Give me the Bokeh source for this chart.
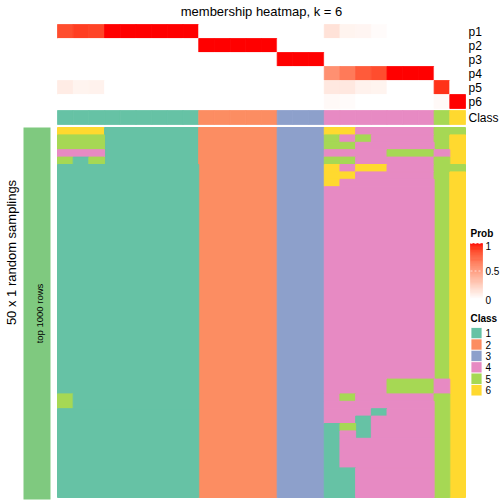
import math
from bokeh.plotting import figure
from bokeh.models import Range1d
from bokeh.core.properties import value
from bokeh.embed import file_html
from bokeh.resources import INLINE

# ---------------- data ----------------
title = "membership heatmap, k = 6"
row_names = ["p1", "p2", "p3", "p4", "p5", "p6"]
class_labels = ["1", "2", "3", "4", "5", "6"]
class_colors = ["#66C2A5", "#FC8D62", "#8DA0CB", "#E78AC3", "#A6D854", "#FFD92F"]
sample_class = [1] * 9 + [2] * 5 + [3] * 3 + [4] * 7 + [5, 6]

p1 = [0.85, 0.9, 0.88, 1, 1, 1, 1, 1, 1, 0, 0, 0, 0, 0, 0, 0, 0,
      0.15, 0.06, 0.05, 0.02, 0, 0, 0, 0, 0]
p2 = [0] * 9 + [1] * 5 + [0] * 12
p3 = [0] * 14 + [1] * 3 + [0] * 9
p4 = [0] * 17 + [0.57, 0.67, 0.8, 0.85, 1, 1, 1] + [0, 0]
p5 = [0.1, 0.06, 0.07] + [0] * 14 + [0.12, 0.12, 0.07, 0.06, 0, 0, 0] + [0.93, 0]
p6 = [0] * 17 + [0.03, 0.02, 0, 0, 0, 0, 0] + [0.03, 1]
prob_rows = [p1, p2, p3, p4, p5, p6]

default_row = "111111111" "22222" "333" "4444444" "56"
samplings = (
    ["666111111" "22222" "333" "6644444" "55",
     "555111111" "22222" "333" "5454444" "56",
     "555111111" "22222" "333" "5544444" "56",
     "444111111" "22222" "333" "4444555" "46",
     "515111111" "22222" "333" "5544444" "56",
     "111111111" "22222" "333" "6466444" "55",
     "111111111" "22222" "333" "6644444" "56",
     "111111111" "22222" "333" "6444444" "56"]
    + [default_row] * 26
    + ["111111111" "22222" "333" "4444555" "46"] * 2
    + ["511111111" "22222" "333" "4544444" "56",
       "511111111" "22222" "333" "4444444" "56",
       "111111111" "22222" "333" "4441444" "56",
       "111111111" "22222" "333" "4414444" "56",
       "111111111" "22222" "333" "1514444" "56",
       "111111111" "22222" "333" "1414444" "56"]
    + ["111111111" "22222" "333" "1444444" "56"] * 4
    + ["111111111" "22222" "333" "1144444" "56"] * 4
)
prob_ticks = [0, 0.5, 1]
left_label = "50 x 1 random samplings"
bar_label = "top 1000 rows"

# ---------------- colour helpers (LAB white->red ramp) ----------------
def _s2l(c):
    return c / 12.92 if c <= 0.04045 else ((c + 0.055) / 1.055) ** 2.4

def _l2s(c):
    c = min(1.0, max(0.0, c))
    return 12.92 * c if c <= 0.0031308 else 1.055 * c ** (1 / 2.4) - 0.055

def to_lab(rgb):
    r, g, b = [_s2l(c / 255) for c in rgb]
    X = 0.4124 * r + 0.3576 * g + 0.1805 * b
    Y = 0.2126 * r + 0.7152 * g + 0.0722 * b
    Z = 0.0193 * r + 0.1192 * g + 0.9505 * b
    f = lambda t: t ** (1 / 3) if t > 0.008856 else 7.787 * t + 16 / 116
    fx, fy, fz = f(X / 0.95047), f(Y), f(Z / 1.08883)
    return (116 * fy - 16, 500 * (fx - fy), 200 * (fy - fz))

def from_lab(lab):
    L, a, b = lab
    fy = (L + 16) / 116
    fx = fy + a / 500
    fz = fy - b / 200
    finv = lambda t: t ** 3 if t ** 3 > 0.008856 else (t - 16 / 116) / 7.787
    X, Y, Z = 0.95047 * finv(fx), finv(fy), 1.08883 * finv(fz)
    r = 3.2406 * X - 1.5372 * Y - 0.4986 * Z
    g = -0.9689 * X + 1.8758 * Y + 0.0415 * Z
    bb = 0.0557 * X - 0.2040 * Y + 1.0570 * Z
    return "#%02x%02x%02x" % tuple(int(round(255 * _l2s(c))) for c in (r, g, bb))

WL = to_lab((255, 255, 255))
RL = to_lab((255, 0, 0))

def prob_color(t):
    return from_lab(tuple(WL[i] + (RL[i] - WL[i]) * t for i in range(3)))

# ---------------- layout (screen px) ----------------
X0, X1 = 57.0, 465.0
ncol = len(sample_class)
cw = (X1 - X0) / ncol
PT, PH = 24.0, 14.0
CT, CB = 110.0, 124.0
HT, HB = 127.0, 497.0
nrow = len(samplings)
rh = (HB - HT) / nrow

p = figure(width=504, height=504, x_range=Range1d(0, 504), y_range=Range1d(504, 0),
           output_backend="svg", toolbar_location=None,
           x_axis_location=None, y_axis_location=None, min_border=0)
p.grid.visible = False
p.outline_line_color = None
p.background_fill_color = "white"
p.border_fill_color = "white"

FONT = value("Liberation Sans")

# probability rows
L, R, T, B, C = [], [], [], [], []
for r, row in enumerate(prob_rows):
    for j, v in enumerate(row):
        L.append(X0 + j * cw); R.append(X0 + (j + 1) * cw)
        T.append(PT + r * PH); B.append(PT + (r + 1) * PH)
        C.append(prob_color(v))
p.quad(left=L, right=R, top=T, bottom=B, fill_color=C, line_color=C, line_width=0.8)

# class annotation row
L, R, C = [], [], []
for j, k in enumerate(sample_class):
    L.append(X0 + j * cw); R.append(X0 + (j + 1) * cw); C.append(class_colors[k - 1])
p.quad(left=L, right=R, top=CT, bottom=CB, fill_color=C, line_color=C, line_width=0.8)

# sampling heatmap: merge runs into blocks
blocks = []
prev = {}
for i, s in enumerate(samplings):
    runs = []
    j = 0
    while j < len(s):
        k = j
        while k + 1 < len(s) and s[k + 1] == s[j]:
            k += 1
        runs.append((j, k, s[j]))
        j = k + 1
    cur = {}
    for run in runs:
        if run in prev:
            b = prev[run]
            b[3] = i
        else:
            b = [run[0], run[1], i, i, run[2]]
            blocks.append(b)
        cur[run] = b
    prev = cur
L = [X0 + b[0] * cw for b in blocks]
R = [X0 + (b[1] + 1) * cw for b in blocks]
T = [HT + b[2] * rh for b in blocks]
B = [HT + (b[3] + 1) * rh for b in blocks]
C = [class_colors[int(b[4]) - 1] for b in blocks]
p.quad(left=L, right=R, top=T, bottom=B, fill_color=C, line_color=C, line_width=1)

# left annotation bar
p.quad(left=[23], right=[50], top=[HT], bottom=[499], fill_color="#7FC97F", line_color=None)
p.text(x=[38.5], y=[(HT + 499) / 2], text=[bar_label], angle=math.pi / 2,
       text_align="center", text_baseline="middle", text_font=FONT,
       text_font_size="9.5px", text_color="black")
p.text(x=[10.5], y=[252], text=[left_label], angle=math.pi / 2,
       text_align="center", text_baseline="middle", text_font=FONT,
       text_font_size="13px", text_color="black")

# title
p.text(x=[261], y=[11], text=[title], text_align="center", text_baseline="middle",
       text_font=FONT, text_font_size="13px", text_color="black")

# row labels
p.text(x=[468] * 7, y=[PT + (i + 0.5) * PH for i in range(6)] + [(CT + CB) / 2],
       text=row_names + ["Class"], text_align="left", text_baseline="middle",
       text_font=FONT, text_font_size="12px", text_color="black")

# Prob legend
p.text(x=[470], y=[233], text=["Prob"], text_align="left", text_baseline="middle",
       text_font=FONT, text_font_size="10px", text_font_style="bold", text_color="black")
cb_top, cb_bot = 243.0, 298.0
nstep = 60
gl, gr, gt, gb, gc = [], [], [], [], []
for s in range(nstep):
    t0 = s / nstep
    gt.append(cb_bot - (s + 1) * (cb_bot - cb_top) / nstep)
    gb.append(cb_bot - s * (cb_bot - cb_top) / nstep)
    gl.append(470); gr.append(482)
    gc.append(prob_color(t0 + 0.5 / nstep))
p.quad(left=gl, right=gr, top=gt, bottom=gb, fill_color=gc, line_color=gc, line_width=0.6)
tick_y = [cb_bot - v * (cb_bot - cb_top) for v in prob_ticks]
p.segment(x0=[470] * 2, x1=[482] * 2, y0=tick_y[1:], y1=tick_y[1:],
          line_color="white", line_width=1, line_dash="2 2", line_alpha=0.7)
p.text(x=[485] * 3, y=[tick_y[0] + 1, tick_y[1], tick_y[2] + 2],
       text=["0", "0.5", "1"], text_align="left", text_baseline="middle",
       text_font=FONT, text_font_size="10px", text_color="black")

# Class legend
p.text(x=[470], y=[318], text=["Class"], text_align="left", text_baseline="middle",
       text_font=FONT, text_font_size="10px", text_font_style="bold", text_color="black")
bh = 11.4
p.quad(left=[470.5] * 6, right=[481.5] * 6, top=[327 + i * bh for i in range(6)],
       bottom=[327 + (i + 1) * bh for i in range(6)], fill_color=class_colors,
       line_color="white", line_width=0.8)
p.text(x=[485] * 6, y=[327 + (i + 0.5) * bh for i in range(6)], text=class_labels,
       text_align="left", text_baseline="middle", text_font=FONT,
       text_font_size="10px", text_color="black")

open("out.html", "w").write(file_html(p, INLINE))
